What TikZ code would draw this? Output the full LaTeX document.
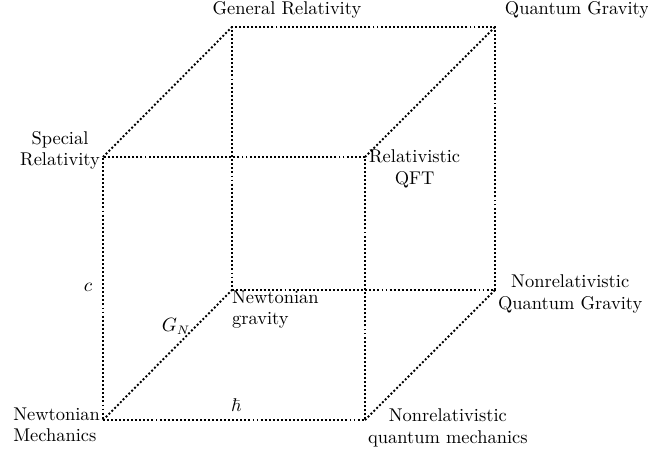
\documentclass[tikz,border=0pt]{standalone}
\usepackage{amsmath,amssymb}
\usepackage{tikz}
\usetikzlibrary{positioning,calc}

\begin{document}
\begin{tikzpicture}[x=0.02cm, y=-0.02cm,
    font=\fontsize{10.5}{12}\selectfont,
    edge/.style={line width=1.1pt, dash pattern=on 1.1pt off 1.2pt},
    lbl/.style={inner sep=1pt, align=center}]

    \useasboundingbox (0,0) rectangle (648,451);

    % Corners of the cube
    \coordinate (nm) at (103,420);
    \coordinate (nrqm) at (365,420);
    \coordinate (sr) at (103,157);
    \coordinate (rqft) at (365,157);
    \coordinate (ng) at (232,290);
    \coordinate (nrqg) at (495,290);
    \coordinate (gr) at (232,27);
    \coordinate (qg) at (495,27);

    % Front face
    \draw[edge] (nm) -- (nrqm) -- (rqft) -- (sr) -- cycle;
    % Back face
    \draw[edge] (ng) -- (nrqg) -- (qg) -- (gr) -- cycle;
    % Depth edges
    \draw[edge] (nm) -- (ng);
    \draw[edge] (nrqm) -- (nrqg);
    \draw[edge] (sr) -- (gr);
    \draw[edge] (rqft) -- (qg);

    % Theories
    \node[lbl, anchor=north east, align=left] (lnm) at (102,406) {Newtonian\\Mechanics};
    \node[lbl, anchor=north west] (lnrqm) at (366,407) {Nonrelativistic\\quantum mechanics};
    \node[lbl, anchor=north west, align=left] (lng) at (230,289) {Newtonian\\gravity};
    \node[lbl, anchor=west] (lnrqg) at (496,294) {Nonrelativistic\\Quantum Gravity};
    \node[lbl, anchor=east] (lsr) at (102,150) {Special\\Relativity};
    \node[lbl, anchor=north west] (lrqft) at (367,148) {Relativistic\\QFT};
    \node[lbl] (lgr) at (287,10) {General Relativity};
    \node[lbl] (lqg) at (577,10) {Quantum Gravity};

    % Constants
    \node (c) at (88,287) {$c$};
    \node (gn) at (176,326) {$G_N$};
    \node (hbar) at (236,405) {$\hbar$};
\end{tikzpicture}
\end{document}
